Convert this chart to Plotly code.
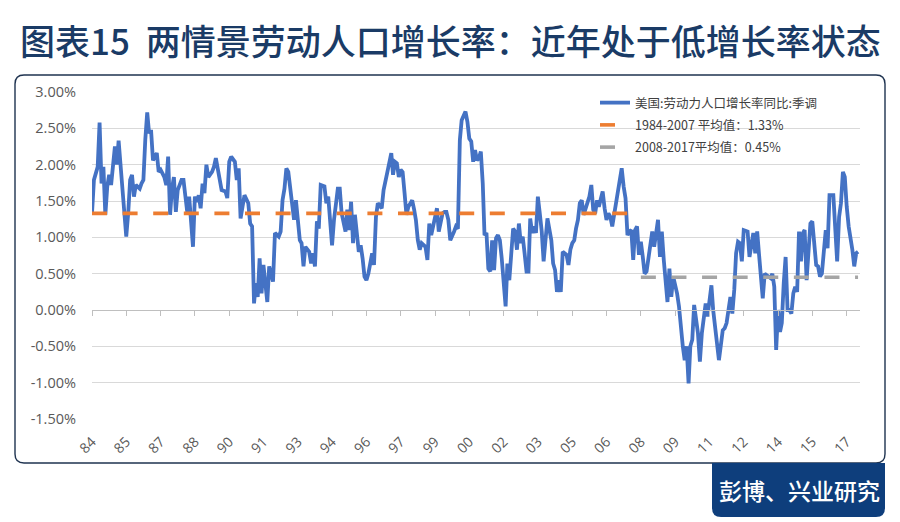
import plotly.graph_objects as go

# ---------------- data ----------------
months = [
    "1984-01","1984-02","1984-04","1984-05","1984-06","1984-07","1984-08","1984-09","1984-10","1984-11",
    "1985-01","1985-02","1985-03","1985-04","1985-05","1985-07","1985-08","1985-09","1985-10","1985-11","1985-12",
    "1986-02","1986-03","1986-04","1986-05","1986-06","1986-07","1986-08","1986-09","1986-11","1986-12",
    "1987-01","1987-03","1987-04","1987-05","1987-06","1987-07","1987-08","1987-09","1987-10","1987-12",
    "1988-01","1988-02","1988-03","1988-04","1988-06","1988-07","1988-08","1988-09","1988-10","1988-11","1988-12",
    "1989-01","1989-02","1989-04","1989-05","1989-06","1989-08","1989-09","1989-11","1989-12",
    "1990-01","1990-02","1990-04","1990-05","1990-06","1990-07","1990-08","1990-09","1990-11","1990-12",
    "1991-01","1991-02","1991-03","1991-04","1991-05","1991-06","1991-07","1991-08","1991-09","1991-10","1991-11","1991-12",
    "1992-01","1992-03","1992-04","1992-05","1992-06","1992-07","1992-08","1992-10","1992-11","1992-12",
    "1993-02","1993-03","1993-04","1993-05","1993-07","1993-08","1993-09","1993-10","1993-11","1993-12",
    "1994-01","1994-03","1994-04","1994-05","1994-06","1994-07","1994-08","1994-10","1994-11","1994-12",
    "1995-02","1995-03","1995-04","1995-05","1995-06","1995-07","1995-09","1995-10","1995-11","1995-12",
    "1996-01","1996-02","1996-04","1996-05","1996-06","1996-07","1996-09","1996-10","1996-12",
    "1997-02","1997-03","1997-04","1997-05","1997-06","1997-07","1997-08","1997-09","1997-10","1997-11",
    "1998-01","1998-02","1998-03","1998-04","1998-05","1998-06","1998-08","1998-09","1998-10","1998-11",
    "1999-01","1999-02","1999-03","1999-05","1999-06","1999-07","1999-08","1999-09","1999-11","1999-12",
    "2000-01","2000-02","2000-03","2000-05","2000-06","2000-07","2000-08","2000-09","2000-10","2000-11","2000-12",
    "2001-01","2001-02","2001-03","2001-04","2001-05","2001-06","2001-07","2001-08","2001-09","2001-10","2001-11","2001-12",
    "2002-01","2002-02","2002-03","2002-04","2002-06","2002-07","2002-08","2002-09","2002-10","2002-11","2002-12",
    "2003-01","2003-02","2003-03","2003-04","2003-05","2003-06","2003-07","2003-08","2003-09","2003-10","2003-11","2003-12",
    "2004-02","2004-03","2004-04","2004-05","2004-06","2004-07","2004-08","2004-10","2004-11","2004-12",
    "2005-01","2005-02","2005-03","2005-04","2005-05","2005-06","2005-07","2005-09","2005-10","2005-11","2005-12",
    "2006-01","2006-02","2006-03","2006-05","2006-06","2006-07","2006-08","2006-09","2006-10","2006-11",
    "2007-01","2007-02","2007-03","2007-04","2007-05","2007-06","2007-07","2007-08","2007-09","2007-10","2007-11","2007-12",
    "2008-01","2008-02","2008-03","2008-04","2008-06","2008-07","2008-08","2008-09","2008-10","2008-11","2008-12",
    "2009-01","2009-02","2009-03","2009-04","2009-05","2009-06","2009-07","2009-08","2009-09","2009-10","2009-11","2009-12",
    "2010-01","2010-02","2010-03","2010-04","2010-05","2010-07","2010-08","2010-09","2010-10","2010-11","2010-12",
    "2011-02","2011-03","2011-04","2011-05","2011-06","2011-08","2011-09","2011-10","2011-11","2011-12",
    "2012-01","2012-02","2012-03","2012-04","2012-05","2012-06","2012-07","2012-09","2012-10","2012-11","2012-12",
    "2013-01","2013-02","2013-03","2013-04","2013-05","2013-06","2013-08","2013-09","2013-10","2013-11","2013-12",
    "2014-01","2014-02","2014-03","2014-04","2014-05","2014-06","2014-07","2014-08","2014-09","2014-10","2014-11","2014-12",
    "2015-01","2015-02","2015-03","2015-04","2015-05","2015-06","2015-07","2015-08","2015-09","2015-10","2015-11","2015-12",
    "2016-01","2016-02","2016-03","2016-04","2016-06","2016-07","2016-08","2016-09","2016-10","2016-11","2016-12",
    "2017-01","2017-02","2017-04","2017-05","2017-06","2017-07",
]

growth = [
    1.33, 1.79, 1.97, 2.58, 1.74, 1.97, 1.31, 1.70, 1.86, 1.72,
    2.25, 2.00, 2.33, 1.97, 1.56, 1.01, 1.33, 1.79, 1.86, 1.56, 1.72,
    1.67, 1.74, 1.79, 2.34, 2.72, 2.43, 2.48, 2.06, 2.16, 1.90,
    1.93, 1.83, 1.72, 2.11, 1.31, 1.67, 1.83, 1.35, 1.65, 1.79,
    1.79, 1.56, 1.35, 1.56, 0.87, 1.56, 1.49, 1.58, 1.40, 1.74, 1.61,
    2.00, 1.83, 1.90, 1.97, 2.09, 1.83, 1.65, 1.63, 1.54,
    2.04, 2.11, 2.04, 1.79, 1.95, 1.26, 1.42, 1.58, 1.47, 1.19,
    1.15, 0.09, 0.37, 0.18, 0.71, 0.23, 0.62, 0.32, 0.11, 0.60, 0.50, 0.39,
    1.06, 1.01, 1.08, 1.51, 1.67, 1.95, 1.90, 1.38, 1.24, 1.51,
    0.96, 0.92, 0.60, 0.87, 0.80, 0.64, 0.78, 0.60, 1.22, 1.12,
    1.72, 1.70, 1.47, 1.56, 1.15, 0.89, 1.24, 1.67, 1.67, 1.33,
    1.08, 1.38, 1.10, 1.49, 0.92, 1.31, 0.80, 0.89, 0.71, 0.46,
    0.41, 0.50, 0.78, 0.62, 1.28, 1.47, 1.40, 1.65, 1.90,
    2.16, 1.86, 2.04, 2.02, 1.83, 1.93, 1.90, 1.61, 1.31, 1.42,
    1.51, 1.38, 1.24, 0.96, 0.83, 0.92, 0.87, 0.69, 1.19, 1.03,
    1.31, 1.40, 1.08, 1.33, 1.35, 1.35, 1.24, 0.96, 1.08, 1.15,
    1.12, 2.34, 2.61, 2.73, 2.59, 2.36, 2.32, 2.04, 2.20, 2.06, 2.09,
    2.18, 1.74, 1.03, 1.06, 0.57, 0.53, 0.96, 0.55, 0.99, 1.03, 0.96, 0.71,
    0.41, 0.05, 0.64, 0.41, 1.12, 1.08, 0.83, 1.19, 0.92, 1.01, 0.78,
    0.53, 0.53, 1.26, 1.06, 1.15, 1.06, 1.56, 1.33, 1.08, 0.67, 0.96, 1.26,
    0.96, 0.64, 0.55, 0.25, 0.41, 0.25, 0.80, 0.76, 0.62, 0.83,
    0.92, 0.96, 1.12, 1.24, 1.47, 1.51, 1.31, 1.47, 1.56, 1.72, 1.38,
    1.33, 1.51, 1.42, 1.63, 1.40, 1.24, 1.33, 1.28, 1.15, 1.33,
    1.61, 1.83, 1.95, 1.70, 1.54, 1.03, 1.08, 1.10, 0.69, 1.10, 1.15, 0.76,
    0.94, 0.73, 0.50, 0.53, 0.96, 1.08, 0.87, 1.03, 1.24, 0.73, 1.08,
    0.69, 0.37, 0.11, 0.57, 0.18, 0.46, 0.37, 0.23, 0.05, -0.28, -0.50, -0.69,
    -0.50, -1.01, -0.50, -0.41, 0.07, -0.32, -0.71, -0.32, -0.14, 0.09, -0.09,
    0.34, 0.00, -0.23, -0.41, -0.69, -0.28, -0.25, -0.18, 0.05, 0.18,
    -0.05, 0.28, 0.78, 0.94, 0.92, 0.67, 1.10, 1.08, 0.73, 0.87, 1.06,
    0.78, 1.08, 0.78, 0.37, 0.16, 0.50, 0.46, 0.44, 0.50, 0.32, -0.55,
    0.00, -0.30, -0.18, 0.37, 0.73, 0.00, 0.00, -0.05, 0.23, 0.32, 0.25, 1.08,
    0.67, 1.06, 1.10, 0.41, 0.87, 1.19, 1.22, 0.87, 0.62, 0.60, 0.46, 0.50,
    0.83, 1.10, 0.85, 1.58, 1.58, 1.19, 0.67, 1.28, 1.47, 1.90, 1.83,
    1.42, 1.15, 0.83, 0.60, 0.78, 0.80,
]

series_name = "美国:劳动力人口增长率同比:季调"
avg_names = ["1984-2007 平均值：1.33%", "2008-2017平均值：0.45%"]
avg_values = [1.33, 0.45]
avg_starts = ["1984-01", "2008-01"]
avg_ends = ["2007-12", "2017-07"]

tick_dates = ["1984-01", "1985-07", "1987-01", "1988-07", "1990-01", "1991-07",
              "1993-01", "1994-07", "1996-01", "1997-07", "1999-01", "2000-07",
              "2002-01", "2003-07", "2005-01", "2006-07", "2008-01", "2009-07",
              "2011-01", "2012-07", "2014-01", "2015-07", "2017-01"]
tick_labels = ["84", "85", "87", "88", "90", "91", "93", "94", "96", "97", "99", "00",
               "02", "03", "05", "06", "08", "09", "11", "12", "14", "15", "17"]
y_ticks = [3.0, 2.5, 2.0, 1.5, 1.0, 0.5, 0.0, -0.5, -1.0, -1.5]
y_tick_labels = [f"{v:.2f}%" for v in y_ticks]

title_text = "图表15  两情景劳动人口增长率：近年处于低增长率状态"
source_text = "彭博、兴业研究"

if len(months) != len(growth):
    raise SystemExit(f"length mismatch {len(months)} vs {len(growth)}")

# ---------------- styling / geometry ----------------
# the page body has an 8px default margin, so the figure is drawn at (8, 8)
OFF = 8
FIG_W, FIG_H = 900 - OFF, 522 - OFF
# plot area in screen pixels of the reference
SL, SR, ST, SB = 92, 860, 92, 419
L, R, T, B = SL - OFF, SR - OFF, ST - OFF, SB - OFF
PW, PH = R - L, B - T

def px(x):
    """screen x (reference pixels) -> paper x"""
    return (x - OFF - L) / PW

def py(y):
    """screen y (reference pixels) -> paper y"""
    return (B - (y - OFF)) / PH

BLUE = "#4472C4"
ORANGE = "#ED7D31"
GRAY = "#A5A5A5"
NAVY = "#1A3B66"
BOX = "#0E3E7C"
GRID = "#D9D9D9"
CJK = "Noto Sans CJK SC"

x_range = ["1984-01-01", "2017-08-01"]

fig = go.Figure()

fig.add_trace(go.Scatter(
    x=months, y=growth, mode="lines", name=series_name, legendgroup="a",
    line=dict(color=BLUE, width=3.8), hoverinfo="skip",
))
avg_colors = [ORANGE, GRAY]
for i in range(2):
    fig.add_trace(go.Scatter(
        x=[avg_starts[i], avg_ends[i]], y=[avg_values[i], avg_values[i]],
        mode="lines", name=avg_names[i], legendgroup="g%d" % i,
        line=dict(color=avg_colors[i], width=3.6, dash="15px,15.6px"),
        hoverinfo="skip",
    ))

# helper trace so the zero-line axis (with its tick marks) is drawn
fig.add_trace(go.Scatter(x=[months[0]], y=[None], xaxis="x2", showlegend=False,
                         hoverinfo="skip", mode="lines"))


def rounded_path(x0, y0, x1, y1, r, corners=(True, True, True, True)):
    # screen pixel coords (y down); corners: tl, tr, br, bl
    rx, ry = r / PW, r / PH
    X0, X1 = px(x0), px(x1)
    Yt, Yb = py(y0), py(y1)
    tl, tr, br, bl = corners
    p = [f"M{X0 + (rx if tl else 0)},{Yt}", f"L{X1 - (rx if tr else 0)},{Yt}"]
    if tr:
        p.append(f"Q{X1},{Yt} {X1},{Yt - ry}")
    p.append(f"L{X1},{Yb + (ry if br else 0)}")
    if br:
        p.append(f"Q{X1},{Yb} {X1 - rx},{Yb}")
    p.append(f"L{X0 + (rx if bl else 0)},{Yb}")
    if bl:
        p.append(f"Q{X0},{Yb} {X0},{Yb + ry}")
    p.append(f"L{X0},{Yt - (ry if tl else 0)}")
    if tl:
        p.append(f"Q{X0},{Yt} {X0 + rx},{Yt}")
    p.append("Z")
    return " ".join(p)


shapes = [
    dict(type="path", xref="paper", yref="paper", layer="below",
         path=rounded_path(15, 75, 885, 463, 9),
         line=dict(color="#1F3350", width=1.4), fillcolor="rgba(0,0,0,0)"),
    dict(type="path", xref="paper", yref="paper", layer="above",
         path=rounded_path(712, 463, 885, 517, 9, (False, False, True, True)),
         line=dict(color=BOX, width=0), fillcolor=BOX),
]

annotations = [
    dict(text=title_text, xref="paper", yref="paper", x=px(450), y=py(40),
         xanchor="center", yanchor="middle", showarrow=False,
         font=dict(family=CJK, size=35, color=NAVY, weight=500)),
    dict(text=source_text, xref="paper", yref="paper", x=px(799), y=py(490),
         xanchor="center", yanchor="middle", showarrow=False,
         font=dict(family=CJK, size=23, color="#FFFFFF", weight=500)),
]

fig.update_layout(
    width=FIG_W, height=FIG_H,
    margin=dict(l=L, r=FIG_W - R, t=T, b=FIG_H - B, pad=0),
    paper_bgcolor="#FFFFFF", plot_bgcolor="#FFFFFF",
    showlegend=True,
    legend=dict(x=px(595), y=py(88), xanchor="left", yanchor="top",
                bgcolor="rgba(0,0,0,0)", tracegroupgap=3,
                font=dict(family=CJK, size=12.5, color="#404040")),
    xaxis=dict(type="date", range=x_range, tickvals=tick_dates, ticktext=tick_labels,
               tickangle=-45, showgrid=False, zeroline=False, showline=False,
               ticks="", ticklabelstandoff=11,
               tickfont=dict(family="Open Sans", size=14, color="#595959")),
    xaxis2=dict(type="date", range=x_range, overlaying="x", anchor="free",
                position=py(310), tickvals=tick_dates, showticklabels=False,
                ticks="outside", ticklen=5, tickcolor="#BFBFBF", tickwidth=1,
                showline=True, linecolor="#BFBFBF", linewidth=1, showgrid=False,
                zeroline=False),
    yaxis=dict(range=[-1.5, 3.0], tickvals=y_ticks, ticktext=y_tick_labels,
               showgrid=True, gridcolor=GRID, gridwidth=1, zeroline=False,
               showline=False, ticks="", ticklabelstandoff=15,
               tickfont=dict(family="Open Sans", size=14.5, color="#595959")),
    shapes=shapes,
    annotations=annotations,
)

fig.write_html("out.html")
